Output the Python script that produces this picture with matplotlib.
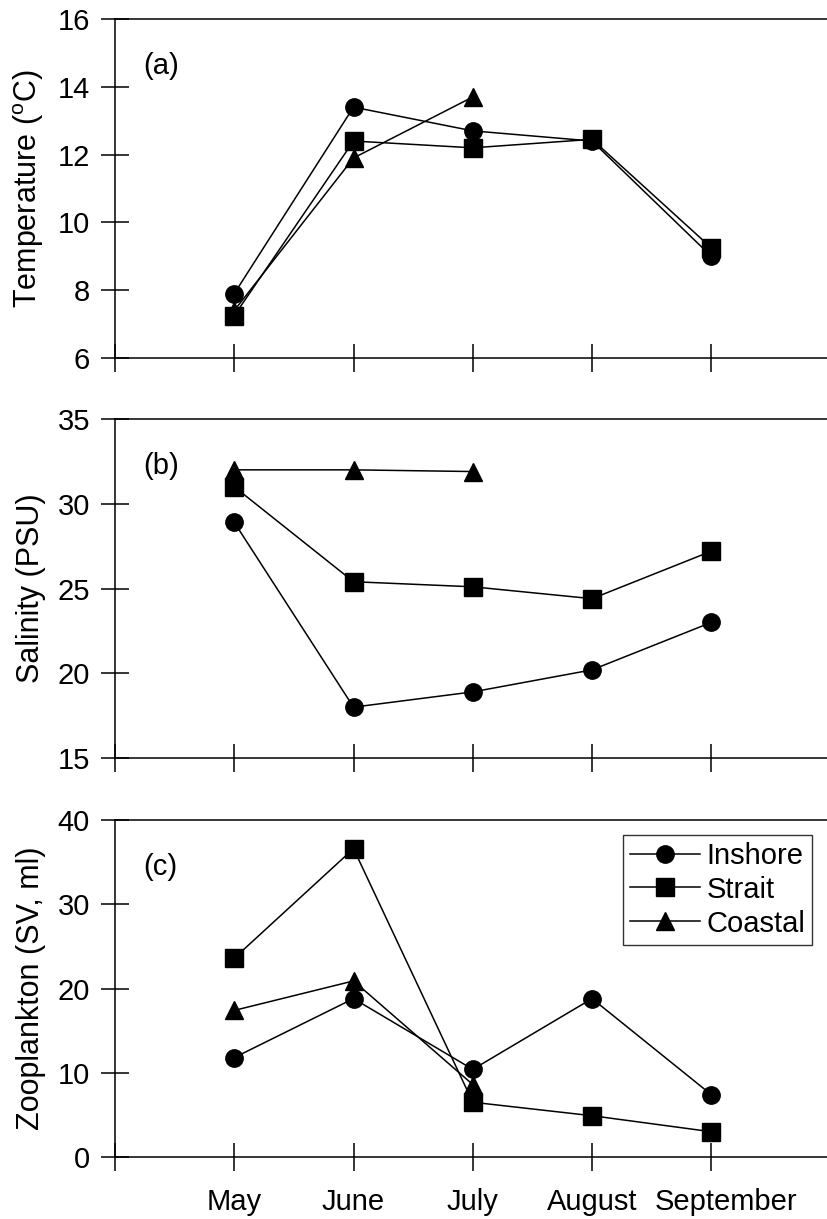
import matplotlib
matplotlib.use("Agg")
import matplotlib.pyplot as plt
from matplotlib.transforms import ScaledTranslation

plt.rcParams['font.family'] = ['Liberation Sans', 'DejaVu Sans']
plt.rcParams['mathtext.fontset'] = 'custom'
plt.rcParams['mathtext.rm'] = 'Liberation Sans'

months = ["May", "June", "July", "August", "September"]
x_inshore = [1, 2, 3, 4, 5]
x_strait = [1, 2, 3, 4, 5]
x_coastal = [1, 2, 3]

temp_inshore = [7.9, 13.4, 12.7, 12.4, 9.0]
temp_strait = [7.25, 12.4, 12.2, 12.45, 9.25]
temp_coastal = [7.4, 11.9, 13.7]

sal_inshore = [28.9, 18.0, 18.9, 20.2, 23.0]
sal_strait = [31.0, 25.4, 25.1, 24.4, 27.2]
sal_coastal = [32.0, 32.0, 31.9]

zoo_inshore = [11.8, 18.8, 10.4, 18.8, 7.4]
zoo_strait = [23.6, 36.6, 6.5, 4.9, 3.0]
zoo_coastal = [17.4, 20.9, 8.6]

panels = [
    ("(a)", "Temperature ($^{\\mathrm{o}}$C)", (6, 16), [6, 8, 10, 12, 14, 16],
     temp_inshore, temp_strait, temp_coastal),
    ("(b)", "Salinity (PSU)", (15, 35), [15, 20, 25, 30, 35],
     sal_inshore, sal_strait, sal_coastal),
    ("(c)", "Zooplankton (SV, ml)", (0, 40), [0, 10, 20, 30, 40],
     zoo_inshore, zoo_strait, zoo_coastal),
]

fig = plt.figure(figsize=(8.27, 12.19), dpi=100)
left = 115 / 827
width = 1 - left
boxes = [(19, 358), (419, 758), (820, 1157)]

FS = 21
lw = 1.1
for i, ((tag, ylabel, ylim, yticks, yi, ys, yc), (top, bot)) in enumerate(zip(panels, boxes)):
    ax = fig.add_axes([left, 1 - bot / 1219, width, (bot - top) / 1219])
    ax.plot(x_inshore, yi, color='black', lw=lw, marker='o', ms=12.5, label='Inshore')
    ax.plot(x_strait, ys, color='black', lw=lw, marker='s', ms=12.5, label='Strait')
    ax.plot(x_coastal, yc, color='black', lw=lw, marker='^', ms=13, label='Coastal')
    ax.set_xlim(0, 5.97)
    ax.set_ylim(*ylim)
    ax.set_yticks(yticks)
    ax.set_xticks([0, 1, 2, 3, 4, 5])
    ax.spines['right'].set_visible(False)
    for s in ('left', 'top', 'bottom'):
        ax.spines[s].set_linewidth(lw)
    ax.tick_params(direction='inout', length=20, width=lw, labelsize=FS)
    ax.tick_params(axis='y', pad=8)
    ax.tick_params(axis='x', pad=12)
    if i == 2:
        ax.set_xticklabels([""] + months)
        # nudge the last month name so it clears "August"
        lab = ax.xaxis.get_major_ticks()[-1].label1
        lab.set_transform(lab.get_transform() + ScaledTranslation(0.15, 0, fig.dpi_scale_trans))
    else:
        ax.set_xticklabels([])
    ax.set_ylabel(ylabel, fontsize=22)
    ax.yaxis.set_label_coords(-0.097, 0.5)
    ax.text(0.04, 0.86, tag, transform=ax.transAxes, fontsize=FS, va='center', ha='left')
    if i == 2:
        leg = ax.legend(loc='upper right', fontsize=FS, frameon=True, fancybox=False,
                        edgecolor='black', handlelength=2.4, handletextpad=0.2,
                        labelspacing=0.2, borderpad=0.25, borderaxespad=0.5)
        leg.get_frame().set_linewidth(1.0)

fig.savefig("out.png", dpi=100)
